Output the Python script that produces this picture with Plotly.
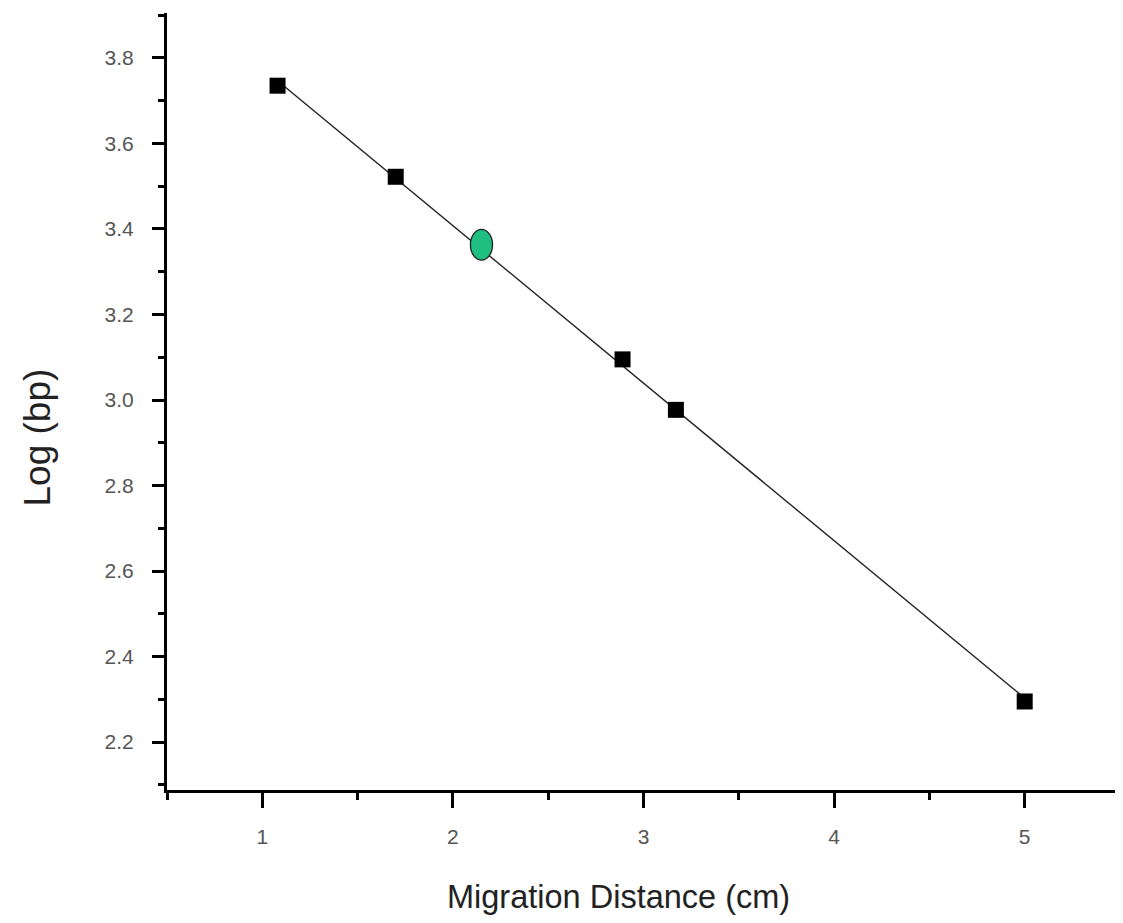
import numpy as np
import plotly.graph_objects as go

# Standard marker data
distance_cm = [1.08, 1.70, 2.89, 3.17, 5.00]
log_bp = [3.735, 3.522, 3.095, 2.977, 2.295]

# Unknown sample
sample_distance = [2.15]
sample_log_bp = [3.363]

x_ticks = [1, 2, 3, 4, 5]
y_ticks = [2.2, 2.4, 2.6, 2.8, 3.0, 3.2, 3.4, 3.6, 3.8]

# linear fit line spanning data
slope, intercept = np.polyfit(distance_cm, log_bp, 1)
fit_x = [min(distance_cm), max(distance_cm)]
fit_y = [slope * v + intercept for v in fit_x]

fig = go.Figure()
fig.add_trace(go.Scatter(x=fit_x, y=fit_y, mode="lines",
                         line=dict(color="#222222", width=1.4), showlegend=False))
fig.add_trace(go.Scatter(x=distance_cm, y=log_bp, mode="markers",
                         marker=dict(symbol="square", size=16, color="black"),
                         showlegend=False))

# green ellipse for the sample (half-width / half-height in data units)
hw, hh = 0.058, 0.036
for sx, sy in zip(sample_distance, sample_log_bp):
    fig.add_shape(type="circle", xref="x", yref="y",
                  x0=sx - hw, x1=sx + hw, y0=sy - hh, y1=sy + hh,
                  fillcolor="#1fbf7f", line=dict(color="#222222", width=1.3))

tick_font = dict(family="Liberation Sans, Arial", size=21, color="#555555")
xtitle_font = dict(family="Liberation Sans, Arial", size=32.5, color="#222222")
ytitle_font = dict(family="Liberation Sans, Arial", size=37, color="#222222")

fig.update_layout(
    width=1123, height=923,
    paper_bgcolor="white", plot_bgcolor="white",
    margin=dict(l=159, r=11, t=5, b=141),
    xaxis=dict(range=[0.5, 5.5], tickvals=x_ticks, ticktext=[str(v) for v in x_ticks],
               showgrid=False, zeroline=False, showline=True, linecolor="black", linewidth=3,
               ticks="outside", ticklen=15, tickwidth=3, tickcolor="black",
               minor=dict(dtick=0.5, tick0=0.5, ticks="outside", ticklen=7, tickwidth=3, tickcolor="black"),
               tickfont=tick_font, ticklabelstandoff=11),
    yaxis=dict(range=[2.088, 3.905], tickvals=y_ticks, ticktext=[f"{v:.1f}" for v in y_ticks],
               showgrid=False, zeroline=False, showline=True, linecolor="black", linewidth=3,
               ticks="outside", ticklen=12, tickwidth=3, tickcolor="black",
               minor=dict(dtick=0.1, tick0=2.1, ticks="outside", ticklen=6, tickwidth=3, tickcolor="black"),
               tickfont=tick_font, ticklabelstandoff=14),
    annotations=[
        dict(text="Migration Distance (cm)", xref="paper", yref="paper",
             x=0.4738, y=-0.138, xanchor="center", yanchor="middle",
             showarrow=False, font=xtitle_font),
        dict(text="Log (bp)", xref="paper", yref="paper",
             x=-0.1364, y=0.4537, xanchor="center", yanchor="middle",
             textangle=-90, showarrow=False, font=ytitle_font),
    ],
)

fig.write_html("out.html")
